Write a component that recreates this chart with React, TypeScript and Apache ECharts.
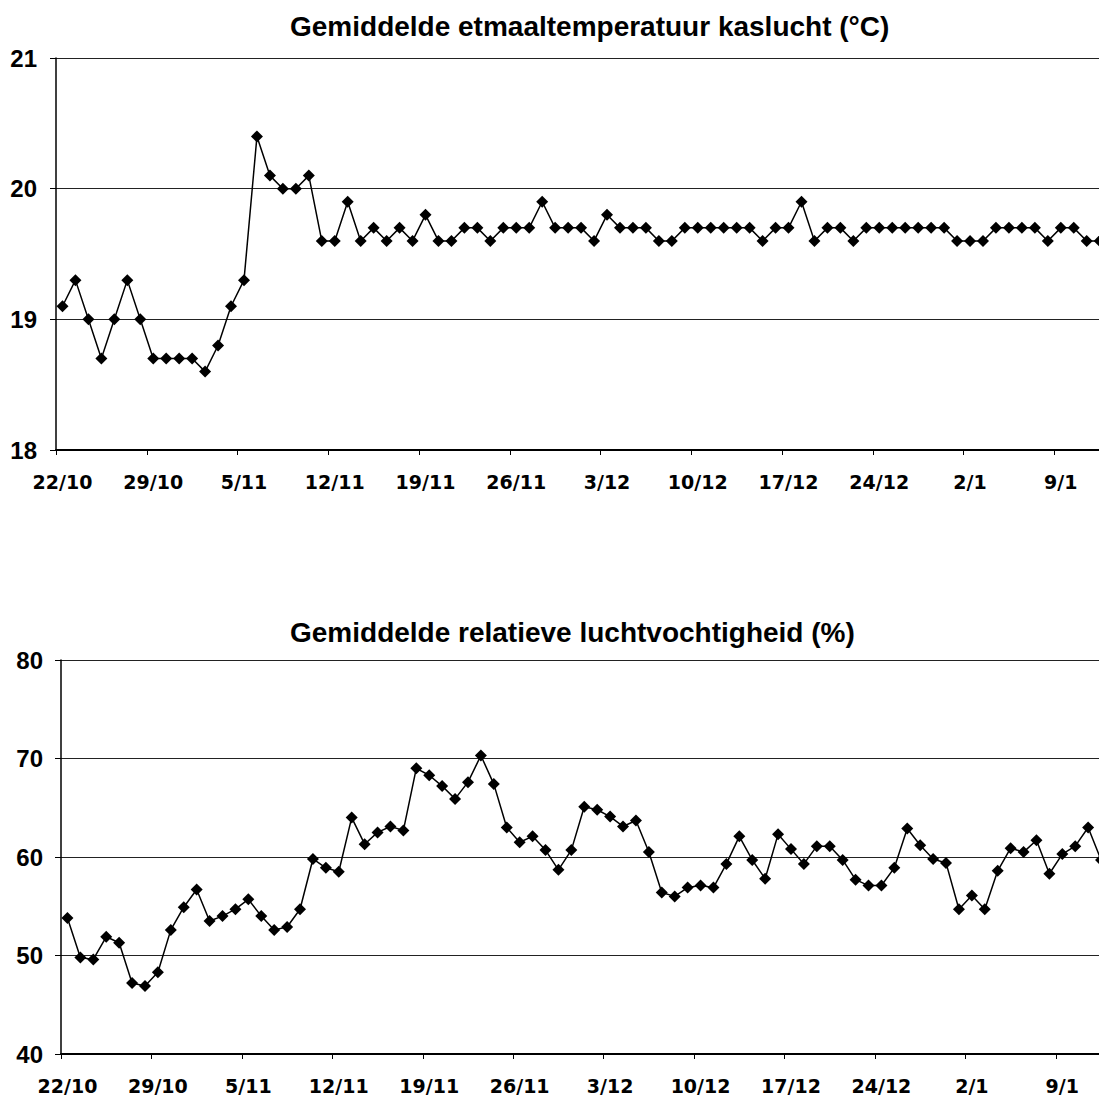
import React, { useEffect, useRef } from "react";
import * as echarts from "echarts";

const categories = [
  "22/10", "23/10", "24/10", "25/10", "26/10", "27/10", "28/10", "29/10", "30/10", "31/10",
  "1/11", "2/11", "3/11", "4/11", "5/11", "6/11", "7/11", "8/11", "9/11", "10/11",
  "11/11", "12/11", "13/11", "14/11", "15/11", "16/11", "17/11", "18/11", "19/11", "20/11",
  "21/11", "22/11", "23/11", "24/11", "25/11", "26/11", "27/11", "28/11", "29/11", "30/11",
  "1/12", "2/12", "3/12", "4/12", "5/12", "6/12", "7/12", "8/12", "9/12", "10/12",
  "11/12", "12/12", "13/12", "14/12", "15/12", "16/12", "17/12", "18/12", "19/12", "20/12",
  "21/12", "22/12", "23/12", "24/12", "27/12", "28/12", "29/12", "30/12", "31/12", "1/1",
  "2/1", "3/1", "4/1", "5/1", "6/1", "7/1", "8/1", "9/1", "10/1", "11/1",
  "12/1",
];

const temperature = [
  19.1, 19.3, 19.0, 18.7, 19.0, 19.3, 19.0, 18.7, 18.7, 18.7,
  18.7, 18.6, 18.8, 19.1, 19.3, 20.4, 20.1, 20.0, 20.0, 20.1,
  19.6, 19.6, 19.9, 19.6, 19.7, 19.6, 19.7, 19.6, 19.8, 19.6,
  19.6, 19.7, 19.7, 19.6, 19.7, 19.7, 19.7, 19.9, 19.7, 19.7,
  19.7, 19.6, 19.8, 19.7, 19.7, 19.7, 19.6, 19.6, 19.7, 19.7,
  19.7, 19.7, 19.7, 19.7, 19.6, 19.7, 19.7, 19.9, 19.6, 19.7,
  19.7, 19.6, 19.7, 19.7, 19.7, 19.7, 19.7, 19.7, 19.7, 19.6,
  19.6, 19.6, 19.7, 19.7, 19.7, 19.7, 19.6, 19.7, 19.7, 19.6,
  19.6,
];

const humidity = [
  53.8, 49.8, 49.6, 51.9, 51.3, 47.2, 46.9, 48.3, 52.6, 54.9,
  56.7, 53.5, 54.0, 54.7, 55.7, 54.0, 52.6, 52.9, 54.7, 59.8,
  58.9, 58.5, 64.0, 61.3, 62.5, 63.1, 62.7, 69.0, 68.3, 67.2,
  65.9, 67.6, 70.3, 67.4, 63.0, 61.5, 62.1, 60.7, 58.7, 60.7,
  65.1, 64.8, 64.1, 63.1, 63.7, 60.5, 56.4, 56.0, 56.9, 57.1,
  56.9, 59.3, 62.1, 59.7, 57.8, 62.3, 60.8, 59.3, 61.1, 61.1,
  59.7, 57.7, 57.1, 57.1, 58.9, 62.9, 61.2, 59.8, 59.4, 54.7,
  56.1, 54.7, 58.6, 60.9, 60.5, 61.7, 58.3, 60.3, 61.1, 63.0,
  59.7,
];

const title1 = "Gemiddelde etmaaltemperatuur kaslucht (°C)";
const title2 = "Gemiddelde relatieve luchtvochtigheid (%)";

const titleFont = {
  fontFamily: "'Liberation Sans', Arial, sans-serif",
  fontWeight: "bold" as const,
  fontSize: 28,
  color: "#000",
};

const xLabel = {
  interval: 6,
  margin: 22,
  fontFamily: "'DejaVu Sans', sans-serif",
  fontWeight: "bold" as const,
  fontSize: 19,
  color: "#000",
};

const yLabelBase = {
  fontFamily: "'Liberation Sans', Arial, sans-serif",
  fontWeight: "bold" as const,
  fontSize: 24,
  color: "#000",
};

export default function App() {
  const ref = useRef<HTMLDivElement>(null);

  useEffect(() => {
    if (!ref.current) return;
    const chart = echarts.init(ref.current, undefined, { renderer: "svg" });
    const n = categories.length;
    const makeX = (gridIndex: number) => ({
      type: "category" as const,
      gridIndex,
      data: categories,
      boundaryGap: true,
      axisLine: { show: true, lineStyle: { color: "#000", width: 2 } },
      axisTick: { show: true, interval: 6, length: 5, alignWithLabel: false, lineStyle: { color: "#000", width: 1 } },
      axisLabel: xLabel,
      splitLine: { show: false },
    });
    const makeY = (gridIndex: number, min: number, max: number, interval: number, margin: number) => ({
      type: "value" as const,
      gridIndex,
      min,
      max,
      interval,
      axisLine: { show: true, lineStyle: { color: "#000", width: 1.5 } },
      axisTick: { show: true, length: 6, lineStyle: { color: "#000", width: 1 } },
      axisLabel: { ...yLabelBase, margin },
      splitLine: { show: true, lineStyle: { color: "#222", width: 1 } },
    });
    const seriesBase = {
      type: "line" as const,
      symbol: "diamond",
      symbolSize: 12,
      showSymbol: true,
      showAllSymbol: true,
      itemStyle: { color: "#000" },
      lineStyle: { color: "#000", width: 1.5 },
    };
    chart.setOption({
      animation: false,
      backgroundColor: "#fff",
      title: [
        { text: title1, left: 285, top: 7, textStyle: titleFont },
        { text: title2, left: 285, top: 613, textStyle: titleFont },
      ],
      grid: [
        { left: 56, top: 58, width: n * 12.965, height: 392 },
        { left: 61, top: 660, width: n * 12.92, height: 394 },
      ],
      xAxis: [makeX(0), makeX(1)],
      yAxis: [makeY(0, 18, 21, 1, 19), makeY(1, 40, 80, 10, 18)],
      series: [
        { ...seriesBase, name: "temperatuur", xAxisIndex: 0, yAxisIndex: 0, data: temperature },
        { ...seriesBase, name: "luchtvochtigheid", xAxisIndex: 1, yAxisIndex: 1, data: humidity },
      ],
    });
    return () => chart.dispose();
  }, []);

  return (
    <div
      style={{
        position: "absolute",
        left: 0,
        top: 0,
        width: 1099,
        height: 1102,
        overflow: "hidden",
        background: "#fff",
      }}
    >
      <div ref={ref} style={{ width: 1130, height: 1102 }} />
    </div>
  );
}
